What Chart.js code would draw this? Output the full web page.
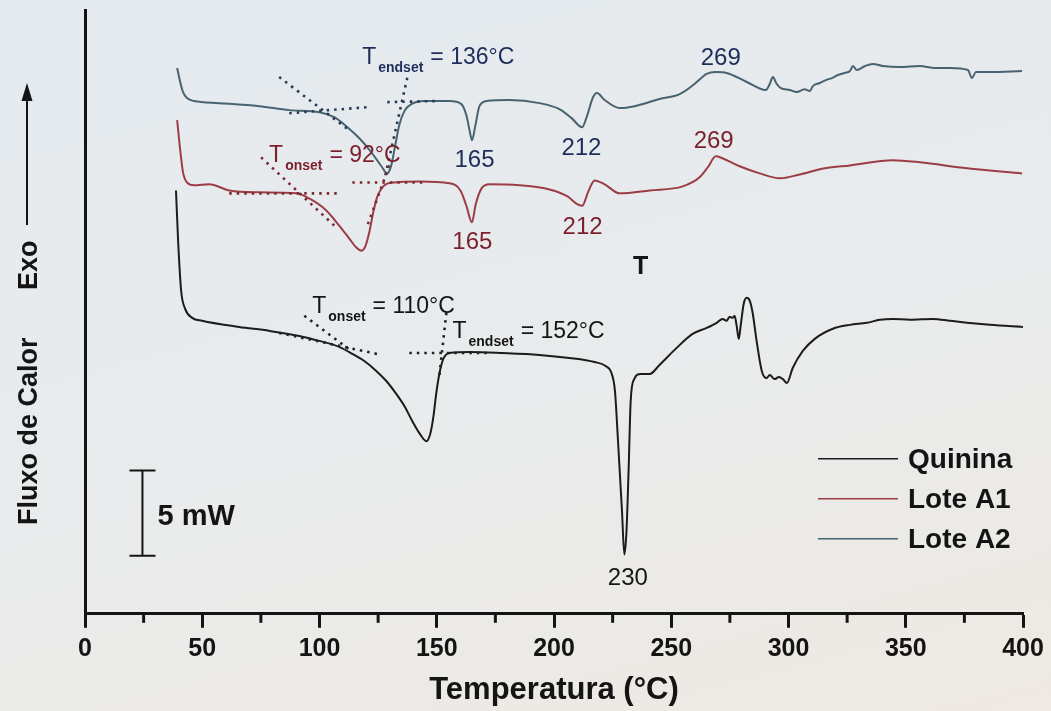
<!DOCTYPE html>
<html lang="pt">
<head>
<meta charset="utf-8">
<title>DSC - Quinina, Lote A1, Lote A2</title>
<script src="https://cdn.jsdelivr.net/npm/chart.js@4.4.1/dist/chart.umd.min.js"></script>
<style>
  html, body { margin: 0; padding: 0; }
  body {
    width: 1051px; height: 711px; overflow: hidden;
    background: linear-gradient(165deg, #e4eaef 0%, #e9ebec 55%, #eee9e2 100%);
  }
  #dsc { display: block; }
</style>
</head>
<body>
<canvas id="dsc" width="1051" height="711"></canvas>
<script>
// ---------- curves: temperature (°C) and heat flow (mW, offset per curve) ----------
const quininaTemp = [38.8, 39.7, 41.0, 42.7, 45.7, 49.9, 65.7, 78.5, 91.4, 99.9, 108.4, 114.0, 119.1, 124.2, 128.5, 132.8, 136.2, 139.6, 142.6, 145.6,
  147.3, 148.6, 149.8, 151.1, 152.8, 155.4, 163.9, 178.0, 193.8, 206.6, 217.3, 222.0, 224.5, 226.0, 227.3, 229.0, 230.0, 230.9, 231.8, 232.7,
  234.2, 236.9, 240.8, 245.0, 252.3, 259.1, 265.1, 269.4, 271.9, 273.6, 274.9, 276.2, 277.0, 277.9, 278.8, 279.6, 280.9, 282.2, 283.5, 284.7,
  286.4, 288.6, 290.7, 292.0, 294.1, 295.9, 297.6, 299.3, 301.8, 306.1, 311.2, 318.9, 326.2, 333.4, 339.0, 344.5, 351.8, 361.6, 368.8, 376.1,
  385.9, 400.0];
const quininaFlow = [24.82, 21.88, 18.94, 17.88, 17.35, 17.18, 16.82, 16.59, 16.29, 16.0, 15.65, 15.24, 14.82, 14.24, 13.65, 12.88, 12.18, 11.29, 10.59, 10.12,
  10.59, 11.59, 12.94, 14.06, 14.94, 15.29, 15.35, 15.29, 15.18, 15.0, 14.76, 14.53, 14.12, 13.06, 10.12, 6.0, 3.47, 4.82, 8.35, 12.47,
  13.76, 14.06, 14.06, 14.59, 15.59, 16.41, 16.76, 17.06, 17.29, 17.18, 17.41, 17.35, 17.47, 16.88, 16.12, 16.88, 18.18, 18.53, 18.35, 17.65,
  16.0, 14.24, 13.82, 14.0, 13.76, 13.88, 13.76, 13.53, 14.41, 15.41, 16.12, 16.71, 16.94, 17.06, 17.24, 17.29, 17.24, 17.29, 17.18, 17.06,
  16.94, 16.82];

const loteA1Temp = [39.3, 40.6, 41.8, 43.5, 46.5, 52.9, 61.5, 74.3, 90.1, 95.6, 102.9, 108.4, 112.7, 115.7, 117.8, 119.5, 121.2, 122.9, 124.7, 127.2,
  131.9, 142.6, 155.4, 160.1, 162.6, 165.0, 166.6, 169.1, 172.5, 185.3, 198.1, 205.8, 209.5, 212.0, 214.6, 217.3, 221.6, 228.0, 240.8, 254.9,
  262.1, 265.6, 269.0, 271.8, 279.2, 287.7, 296.3, 304.8, 315.5, 326.2, 344.5, 356.0, 376.1, 399.6];
const loteA1Flow = [28.94, 27.18, 25.88, 25.29, 25.12, 25.18, 24.82, 24.71, 24.65, 24.35, 23.65, 22.76, 22.0, 21.47, 21.29, 21.53, 22.35, 23.53, 24.47, 25.06,
  25.29, 25.35, 25.24, 24.82, 23.94, 22.95, 24.0, 24.94, 25.18, 25.12, 24.88, 24.47, 24.05, 23.92, 24.75, 25.41, 25.18, 24.65, 24.82, 25.06,
  25.59, 26.18, 26.82, 26.71, 26.24, 25.82, 25.53, 25.76, 26.12, 26.29, 26.59, 26.47, 26.12, 25.82];

const loteA2Temp = [39.3, 40.6, 41.8, 43.5, 46.5, 57.2, 74.3, 87.1, 99.9, 106.3, 111.4, 117.0, 122.1, 126.4, 128.9, 130.6, 132.3, 134.0, 136.2, 139.2,
  144.7, 155.4, 160.5, 162.6, 164.2, 165.0, 166.5, 168.2, 171.2, 181.0, 193.8, 202.3, 207.5, 212.0, 214.2, 216.5, 218.3, 221.6, 228.0, 234.4,
  245.0, 253.6, 259.9, 265.1, 269.0, 273.6, 282.2, 290.3, 292.0, 293.3, 295.0, 296.7, 300.5, 303.5, 306.9, 309.1, 310.4, 313.3, 315.9, 318.5,
  321.0, 324.0, 326.2, 327.5, 329.1, 332.6, 336.0, 340.2, 347.5, 356.0, 362.4, 368.8, 376.5, 378.2, 379.9, 385.9, 399.6];
const loteA2Flow = [32.0, 31.18, 30.59, 30.24, 30.06, 29.94, 29.76, 29.53, 29.41, 29.12, 28.59, 27.88, 27.06, 26.24, 25.82, 26.29, 27.47, 28.65, 29.47, 29.88,
  30.06, 30.06, 29.88, 29.24, 28.2, 27.76, 28.65, 29.76, 30.06, 30.12, 29.94, 29.59, 29.06, 28.53, 29.24, 30.24, 30.53, 30.12, 29.65, 29.76,
  30.18, 30.47, 31.06, 31.65, 31.76, 31.71, 31.18, 30.71, 31.06, 31.47, 31.06, 30.82, 30.71, 30.59, 30.76, 30.65, 30.94, 31.12, 31.29, 31.41,
  31.59, 31.71, 31.82, 32.12, 31.88, 32.12, 32.24, 32.12, 32.06, 32.12, 32.0, 32.0, 31.88, 31.41, 31.76, 31.76, 31.82];

// tangent constructions used for onset / endset ([T, flow] pairs)
const tangentsQuinina = [
  [[93.5, 17.47], [113.6, 15.41]],
  [[82.8, 16.47], [126.4, 15.18]],
  [[138.3, 15.29], [172.5, 15.29]],
  [[154.1, 17.65], [151.1, 13.94]]
];
const tangentsA1 = [
  [[75.1, 26.76], [106.3, 22.76]],
  [[61.5, 24.65], [108.4, 24.65]],
  [[114.0, 25.29], [145.6, 25.29]],
  [[129.8, 26.29], [120.4, 22.76]]
];
const tangentsA2 = [
  [[82.8, 31.47], [112.7, 28.35]],
  [[87.1, 29.35], [121.2, 29.71]],
  [[128.9, 30.0], [149.8, 30.06]],
  [[128.1, 25.71], [137.5, 31.47]]
];

// text annotations, anchored in data coordinates
const transitionLabels = [
  { sub: 'endset', value: '136°C', t: 118.2, f: 32.24, series: 'A2' },
  { sub: 'onset', value: '92°C', t: 78.5, f: 26.47, series: 'A1' },
  { sub: 'onset', value: '110°C', t: 96.9, f: 17.65, series: 'Q' },
  { sub: 'endset', value: '152°C', t: 156.7, f: 16.18, series: 'Q' }
];
const peakLabels = [
  { text: '269', t: 271.1, f: 32.18, series: 'A2' },
  { text: '165', t: 166.1, f: 26.18, series: 'A2' },
  { text: '212', t: 211.7, f: 26.88, series: 'A2' },
  { text: '269', t: 268.1, f: 27.29, series: 'A1' },
  { text: '165', t: 165.2, f: 21.41, series: 'A1' },
  { text: '212', t: 212.2, f: 22.29, series: 'A1' },
  { text: '230', t: 231.5, f: 1.71, series: 'Q' }
];
const scaleBarMW = 5;

// ---------- styling ----------
const FONT = "'Liberation Sans', Arial, sans-serif";
const NARROW = "'Liberation Sans Narrow', 'Liberation Sans', sans-serif";
const INK = '#141414';
const curveColor = { Q: '#1c1c1c', A1: '#9b3d46', A2: '#48626f' };
const labelColor = { Q: '#151515', A1: '#7b1f2c', A2: '#1e2d5a' };
const tangentColor = { Q: '#222222', A1: '#7a2a32', A2: '#2a3b55' };

Chart.defaults.font.family = FONT;

function toXY(temps, flows) {
  return temps.map((t, i) => ({ x: t, y: flows[i] }));
}

function curve(label, key, temps, flows) {
  return {
    label, seriesKey: key, isCurve: true,
    data: toXY(temps, flows),
    borderColor: curveColor[key], borderWidth: 2,
    pointRadius: 0, cubicInterpolationMode: 'monotone', fill: false
  };
}

function tangentSets(key, segments) {
  return segments.map(seg => ({
    label: 'tangente', data: seg.map(p => ({ x: p[0], y: p[1] })),
    borderColor: tangentColor[key], borderWidth: 2.6, borderDash: [2.5, 5],
    pointRadius: 0, tension: 0, fill: false
  }));
}

const datasets = [
  ...tangentSets('Q', tangentsQuinina),
  ...tangentSets('A1', tangentsA1),
  ...tangentSets('A2', tangentsA2),
  curve('Quinina', 'Q', quininaTemp, quininaFlow),
  curve('Lote A1', 'A1', loteA1Temp, loteA1Flow),
  curve('Lote A2', 'A2', loteA2Temp, loteA2Flow)
];

// ---------- overlay: minor ticks, labels, scale bar, legend, y title ----------
const dscOverlay = {
  id: 'dscOverlay',
  afterDraw(chart) {
    const { ctx, chartArea: area } = chart;
    const xs = chart.scales.x, ys = chart.scales.y;
    const px = v => xs.getPixelForValue(v);
    const py = v => ys.getPixelForValue(v);
    ctx.save();

    // minor ticks between the labelled ones
    ctx.strokeStyle = INK; ctx.lineWidth = 3;
    for (let v = 25; v < 400; v += 50) {
      ctx.beginPath();
      ctx.moveTo(px(v), area.bottom);
      ctx.lineTo(px(v), area.bottom + 9);
      ctx.stroke();
    }

    // onset / endset labels with subscripts
    ctx.textBaseline = 'alphabetic'; ctx.textAlign = 'left';
    transitionLabels.forEach(l => {
      let x = px(l.t); const y = py(l.f);
      ctx.fillStyle = labelColor[l.series];
      ctx.font = '23px ' + FONT;
      ctx.fillText('T', x, y);
      x += ctx.measureText('T').width + 2;
      ctx.font = 'bold 14px ' + FONT;
      ctx.fillText(l.sub, x, y + 8);
      x += ctx.measureText(l.sub).width + 7;
      ctx.font = '23px ' + FONT;
      ctx.fillText('= ' + l.value, x, y);
    });

    // peak temperatures
    ctx.textAlign = 'center';
    ctx.font = '24px ' + FONT;
    peakLabels.forEach(l => {
      ctx.fillStyle = labelColor[l.series];
      ctx.fillText(l.text, px(l.t), py(l.f));
    });
    ctx.fillStyle = INK;
    ctx.font = 'bold 25px ' + FONT;
    ctx.fillText('T', px(236.9), py(19.94));

    // 5 mW scale bar
    const bx = px(24.5), b0 = py(3.4), b1 = py(3.4 + scaleBarMW);
    ctx.strokeStyle = INK; ctx.lineWidth = 2;
    ctx.beginPath();
    ctx.moveTo(bx, b0); ctx.lineTo(bx, b1);
    ctx.moveTo(bx - 13, b0); ctx.lineTo(bx + 13, b0);
    ctx.moveTo(bx - 13, b1); ctx.lineTo(bx + 13, b1);
    ctx.stroke();
    ctx.textAlign = 'left'; ctx.fillStyle = INK;
    ctx.font = 'bold 29px ' + FONT;
    ctx.fillText(scaleBarMW + ' mW', bx + 15, (b0 + b1) / 2 + 12);

    // legend
    const curves = chart.data.datasets.filter(d => d.isCurve);
    ctx.textBaseline = 'middle';
    curves.forEach((d, i) => {
      const y = area.bottom - 155 + i * 40;
      ctx.strokeStyle = d.borderColor; ctx.lineWidth = 1.6;
      ctx.beginPath();
      ctx.moveTo(area.right - 205, y); ctx.lineTo(area.right - 125, y);
      ctx.stroke();
      ctx.fillStyle = INK;
      ctx.font = 'bold 28px ' + FONT;
      ctx.fillText(d.label, area.right - 115, y + 1);
    });

    // vertical axis title with exo arrow
    ctx.translate(37, 525);
    ctx.rotate(-Math.PI / 2);
    ctx.textBaseline = 'alphabetic'; ctx.textAlign = 'left';
    ctx.fillStyle = INK;
    ctx.font = 'bold 27px ' + FONT;
    ctx.fillText('Fluxo de Calor', 0, 0);
    ctx.fillText('Exo', 235, 0);
    ctx.strokeStyle = INK; ctx.lineWidth = 2;
    ctx.beginPath();
    ctx.moveTo(300, -10); ctx.lineTo(428, -10);
    ctx.stroke();
    ctx.beginPath();
    ctx.moveTo(442, -10); ctx.lineTo(424, -15.5); ctx.lineTo(424, -4.5);
    ctx.closePath(); ctx.fill();

    ctx.restore();
  }
};

new Chart(document.getElementById('dsc'), {
  type: 'line',
  data: { datasets },
  options: {
    responsive: false,
    animation: false,
    parsing: true,
    layout: { padding: { left: 85, right: 28, top: 10, bottom: 2 } },
    plugins: { legend: { display: false }, tooltip: { enabled: false } },
    scales: {
      x: {
        type: 'linear', min: 0, max: 400, position: 'bottom',
        ticks: { stepSize: 50, color: INK, padding: 6, maxRotation: 0, autoSkip: false,
                 font: { family: NARROW, size: 25, weight: 'bold' } },
        grid: { display: true, drawOnChartArea: false, drawTicks: true, tickLength: 14, tickWidth: 3, tickColor: INK },
        border: { display: true, width: 3, color: INK },
        title: { display: true, text: 'Temperatura (°C)', color: INK,
                 font: { family: FONT, size: 31, weight: 'bold' }, padding: { top: 2, bottom: 0 } }
      },
      y: {
        type: 'linear', min: 0, max: 35.4,
        ticks: { display: false },
        grid: { display: false, drawTicks: false },
        border: { display: true, width: 3, color: INK }
      }
    }
  },
  plugins: [dscOverlay]
});
</script>
</body>
</html>
